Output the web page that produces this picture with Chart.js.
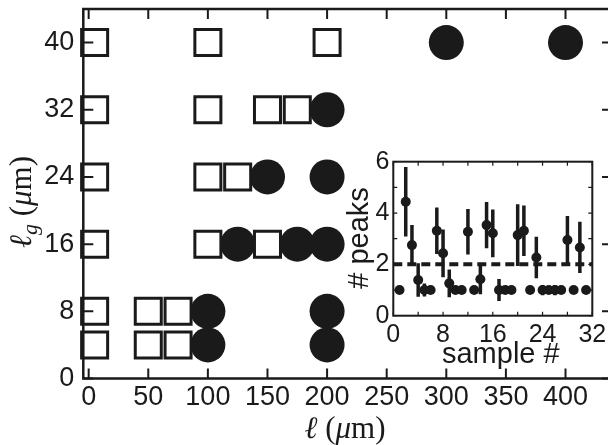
<!DOCTYPE html>
<html>
<head>
<meta charset="utf-8">
<title>Chart</title>
<script src="https://cdn.jsdelivr.net/npm/chart.js@4.4.1/dist/chart.umd.min.js"></script>
<style>
  html, body { margin: 0; padding: 0; background: #fff; overflow: hidden; }
  #wrap { position: relative; width: 608px; height: 445px; overflow: hidden; }
  #main { position: absolute; left: 0; top: 0; }
  #inset { position: absolute; left: 335px; top: 140px; }
</style>
</head>
<body>
<div id="wrap">
  <canvas id="main" width="625" height="445"></canvas>
  <canvas id="inset" width="273" height="240"></canvas>
</div>
<script>
// main panel: open squares and filled circles (ell, ell_g)
const squareL  = [5, 100, 200, 5, 100, 150, 175, 5, 100, 125, 5, 100, 150, 5, 50, 75, 5, 50, 75]
const squareLg = [40, 40, 40, 32, 32, 32, 32, 24, 24, 24, 16, 16, 16, 8, 8, 8, 4, 4, 4]
const circleL  = [300, 400, 200, 150, 200, 125, 175, 200, 100, 200, 100, 200]
const circleLg = [40, 40, 32, 24, 24, 16, 16, 16, 8, 8, 4, 4]
const xTicks = [0, 50, 100, 150, 200, 250, 300, 350, 400]
const yTicks = [0, 8, 16, 24, 32, 40]

// inset: number of peaks per sample
const sampleNo = [1, 2, 3, 4, 5, 6, 7, 8, 9, 10, 11, 12, 13, 14, 15, 16, 17, 18, 19, 20, 21, 22, 23, 24, 25, 26, 27, 28, 29, 30, 31]
const peaks    = [1, 4.44, 2.75, 1.39, 1, 1, 3.31, 2.43, 1.26, 1, 1, 3.27, 1, 1.42, 3.53, 3.21, 1, 1, 1, 3.14, 3.31, 1, 2.27, 1, 1, 1, 1, 2.95, 1, 2.66, 1]
const peakErr  = [0, 1.35, 0.78, 0.65, 0.25, 0, 0.91, 0.93, 0.54, 0, 0, 0.89, 0, 0.58, 0.9, 0.93, 0.43, 0, 0, 1.2, 0.98, 0, 0.81, 0.2, 0, 0.2, 0, 0.93, 0, 1.0, 0]
const threshold = 2
const insetXTicks = [0, 8, 16, 24, 32]
const insetYTicks = [0, 2, 4, 6]

const ink = '#1a1a1a'
const pts = (xs, ys) => xs.map((x, i) => ({ x, y: ys[i] }))

function drawRuns(ctx, runs, x, y, rot) {
    ctx.save()
    ctx.translate(x, y)
    if (rot) ctx.rotate(rot)
    ctx.fillStyle = ink
    ctx.textBaseline = 'alphabetic'
    ctx.textAlign = 'left'
    let w = 0
    runs.forEach(r => { ctx.font = r.font; r.w = ctx.measureText(r.text).width; w += r.w })
    let cx = -w / 2
    runs.forEach(r => { ctx.font = r.font; ctx.fillText(r.text, cx, r.dy || 0); cx += r.w })
    ctx.restore()
}

function range(lo, hi, step) {
    const out = []
    for (let v = Math.ceil(lo / step) * step; v <= hi + 1e-9; v += step) out.push(v)
    return out
}

// fixed axis sizes, no extra padding for the end labels
const fixSize = (prop, size) => s => {
    s[prop] = size
    s.paddingTop = s.paddingBottom = s.paddingLeft = s.paddingRight = 0
}

// box round the plot area with inward ticks on all four sides
const frameTicks = {
    id: 'frameTicks',
    beforeDatasetsDraw(chart, args, o) {
        if (!o.fill) return
        const a = chart.chartArea
        const ctx = chart.ctx
        ctx.save()
        ctx.fillStyle = '#fff'
        ctx.fillRect(a.left, a.top, a.right - a.left, a.bottom - a.top)
        ctx.restore()
    },
    afterDatasetsDraw(chart, args, o) {
        const a = chart.chartArea
        const ctx = chart.ctx
        const xs = chart.scales.x, ys = chart.scales.y
        ctx.save()
        ctx.strokeStyle = ink
        ctx.lineWidth = o.tickWidth
        ctx.beginPath()
        const xv = o.xStep ? range(xs.min, xs.max, o.xStep) : xs.ticks.map(t => t.value)
        const yv = o.yStep ? range(ys.min, ys.max, o.yStep) : ys.ticks.map(t => t.value)
        xv.forEach(v => {
            const px = xs.getPixelForValue(v)
            ctx.moveTo(px, a.bottom); ctx.lineTo(px, a.bottom - o.len)
            ctx.moveTo(px, a.top); ctx.lineTo(px, a.top + o.len)
        })
        yv.forEach(v => {
            const py = ys.getPixelForValue(v)
            ctx.moveTo(a.left, py); ctx.lineTo(a.left + o.len, py)
            ctx.moveTo(a.right, py); ctx.lineTo(a.right - o.len, py)
        })
        ctx.stroke()
        ctx.lineWidth = o.lineWidth
        ctx.strokeRect(a.left, a.top, a.right - a.left, a.bottom - a.top)
        ctx.restore()
    },
    afterDraw(chart, args, o) {
        (o.titles || []).forEach(t => drawRuns(chart.ctx, t.runs, t.x, t.y, t.rot))
    }
}

// vertical error bars for the inset
const errorBars = {
    id: 'errorBars',
    beforeDatasetsDraw(chart, args, o) {
        if (!o.errors) return
        const xs = chart.scales.x, ys = chart.scales.y
        const ctx = chart.ctx
        ctx.save()
        ctx.strokeStyle = ink
        ctx.lineWidth = o.width
        ctx.beginPath()
        o.xs.forEach((x, i) => {
            const e = o.errors[i]
            if (!e) return
            const px = xs.getPixelForValue(x)
            ctx.moveTo(px, ys.getPixelForValue(o.ys[i] - e))
            ctx.lineTo(px, ys.getPixelForValue(o.ys[i] + e))
        })
        ctx.stroke()
        ctx.restore()
    }
}

Chart.register(frameTicks, errorBars)
Chart.defaults.font.family = '"Liberation Sans", Arial, sans-serif'
Chart.defaults.color = ink
Chart.defaults.animation = false

const serif = '"Liberation Serif", "DejaVu Serif", serif'
const sans = '"Liberation Sans", Arial, sans-serif'

new Chart('main', {
    type: 'scatter',
    data: {
        datasets: [
            {
                data: pts(squareL, squareLg),
                pointStyle: 'rect',
                pointRadius: 18.4,
                borderWidth: 3,
                borderColor: ink,
                backgroundColor: 'rgba(255,255,255,0)',
                clip: false,
            },
            {
                data: pts(circleL, circleLg),
                pointStyle: 'circle',
                pointRadius: 17.5,
                borderWidth: 0,
                backgroundColor: ink,
                clip: false,
            },
        ],
    },
    options: {
        responsive: false,
        events: [],
        layout: { autoPadding: false, padding: { top: 9, right: 13, left: 0, bottom: 0 } },
        plugins: {
            legend: { display: false },
            tooltip: { enabled: false },
            frameTicks: {
                lineWidth: 2.5,
                tickWidth: 2,
                len: 10,
                titles: [
                    {
                        x: 345, y: 438, runs: [
                            { text: 'ℓ', font: 'italic 31px ' + serif },
                            { text: ' (', font: '31px ' + serif },
                            { text: 'μ', font: 'italic 31px ' + serif },
                            { text: 'm)', font: '31px ' + serif },
                        ],
                    },
                    {
                        x: 31, y: 202, rot: -Math.PI / 2, runs: [
                            { text: 'ℓ', font: 'italic 31px ' + serif },
                            { text: 'g', font: 'italic 22px ' + serif, dy: 6 },
                            { text: ' (', font: '31px ' + serif },
                            { text: 'μ', font: 'italic 31px ' + serif },
                            { text: 'm)', font: '31px ' + serif },
                        ],
                    },
                ],
            },
        },
        scales: {
            x: {
                type: 'linear',
                min: -4.5,
                max: 439,
                afterBuildTicks: s => { s.ticks = xTicks.map(v => ({ value: v })) },
                afterFit: fixSize('height', 66.5),
                grid: { display: false, drawTicks: false },
                border: { display: false },
                ticks: { font: { size: 27 }, padding: 3, maxRotation: 0, autoSkip: false },
            },
            y: {
                type: 'linear',
                min: 0,
                max: 44,
                afterBuildTicks: s => { s.ticks = yTicks.map(v => ({ value: v })) },
                afterFit: fixSize('width', 83.3),
                grid: { display: false, drawTicks: false },
                border: { display: false },
                ticks: { font: { size: 27 }, padding: 9, autoSkip: false },
            },
        },
    },
})

new Chart('inset', {
    type: 'scatter',
    data: {
        datasets: [
            {
                type: 'line',
                data: [{ x: 0, y: threshold }, { x: 32, y: threshold }],
                borderColor: ink,
                borderWidth: 4,
                borderDash: [9, 5],
                pointRadius: 0,
                fill: false,
            },
            {
                data: pts(sampleNo, peaks),
                pointStyle: 'circle',
                pointRadius: 5,
                borderWidth: 0,
                backgroundColor: ink,
                clip: false,
            },
        ],
    },
    options: {
        responsive: false,
        events: [],
        layout: { autoPadding: false, padding: { top: 21.7, right: 15.7, left: 0, bottom: 0 } },
        plugins: {
            legend: { display: false },
            tooltip: { enabled: false },
            errorBars: { xs: sampleNo, ys: peaks, errors: peakErr, width: 3.5 },
            frameTicks: {
                fill: true,
                lineWidth: 2,
                tickWidth: 1.2,
                len: 4,
                xStep: 4,
                yStep: 1,
                titles: [
                    { x: 165.8, y: 223, runs: [{ text: 'sample #', font: '29px ' + sans }] },
                    { x: 33, y: 98, rot: -Math.PI / 2, runs: [{ text: '# peaks', font: '29px ' + sans }] },
                ],
            },
        },
        scales: {
            x: {
                type: 'linear',
                min: 0,
                max: 32,
                afterBuildTicks: s => { s.ticks = insetXTicks.map(v => ({ value: v })) },
                afterFit: fixSize('height', 64.3),
                grid: { display: false, drawTicks: false },
                border: { display: false },
                ticks: { font: { size: 25 }, padding: 4, maxRotation: 0, autoSkip: false },
            },
            y: {
                type: 'linear',
                min: 0,
                max: 6,
                afterBuildTicks: s => { s.ticks = insetYTicks.map(v => ({ value: v })) },
                afterFit: fixSize('width', 58.3),
                grid: { display: false, drawTicks: false },
                border: { display: false },
                ticks: { font: { size: 25 }, padding: 4, autoSkip: false },
            },
        },
    },
})
</script>
</body>
</html>
